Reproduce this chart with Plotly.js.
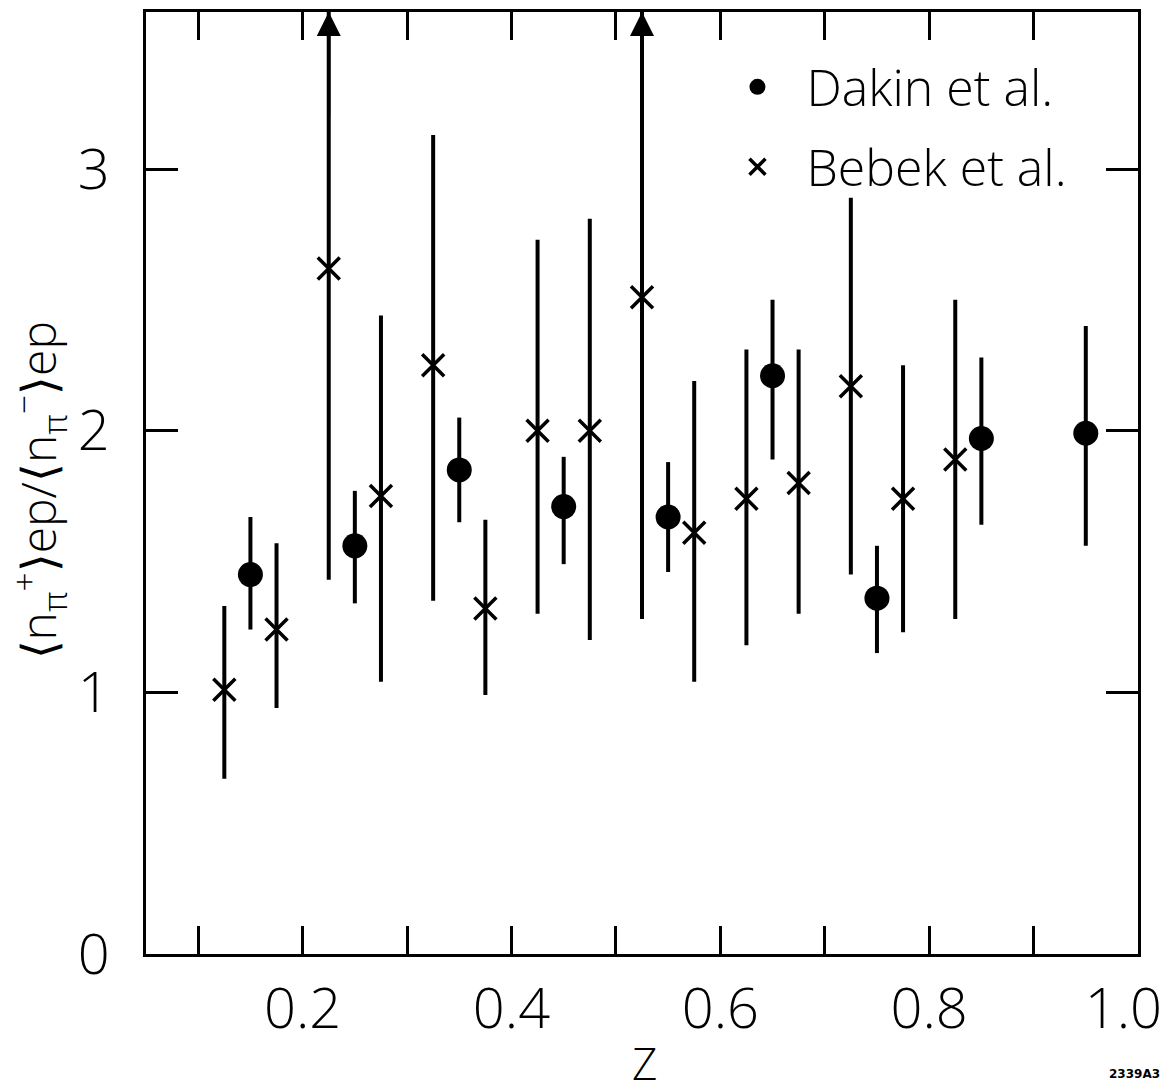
<!DOCTYPE html>
<html>
<head>
<meta charset="utf-8">
<script src="https://cdn.plot.ly/plotly-3.0.1.min.js"></script>
<style>
  html, body { margin: 0; padding: 0; background: #fff; }
  #chart { width: 1170px; height: 1092px; }
</style>
</head>
<body>
<div id="chart"></div>
<script>
// ---- Data ----
// Dakin et al. (filled circles)
const dakinZ   = [0.15, 0.25, 0.35, 0.45, 0.55, 0.65, 0.75, 0.85, 0.95];
const dakinY   = [1.45, 1.56, 1.85, 1.71, 1.67, 2.21, 1.36, 1.97, 1.99];
const dakinHi  = [1.67, 1.77, 2.05, 1.90, 1.88, 2.50, 1.56, 2.28, 2.40];
const dakinLo  = [1.24, 1.34, 1.65, 1.49, 1.46, 1.89, 1.15, 1.64, 1.56];

// Bebek et al. (crosses); null upper = error bar runs off scale (arrow)
const bebekZ   = [0.125, 0.175, 0.225, 0.275, 0.325, 0.375, 0.425, 0.475, 0.525, 0.575, 0.625, 0.675, 0.725, 0.775, 0.825];
const bebekY   = [1.01, 1.24, 2.62, 1.75, 2.25, 1.32, 2.00, 2.00, 2.51, 1.61, 1.74, 1.80, 2.17, 1.74, 1.89];
const bebekHi  = [1.33, 1.57, null, 2.44, 3.13, 1.66, 2.73, 2.81, null, 2.19, 2.31, 2.31, 2.89, 2.25, 2.50];
const bebekLo  = [0.67, 0.94, 1.43, 1.04, 1.35, 0.99, 1.30, 1.20, 1.28, 1.04, 1.18, 1.30, 1.45, 1.23, 1.28];

// Axis ticks (trailing no-break spaces keep the last label inside the page)
const xTickVals = [0.1, 0.2, 0.3, 0.4, 0.5, 0.6, 0.7, 0.8, 0.9, 1.0];
const xTickText = ["", "0.2", "", "0.4", "", "0.6", "", "0.8", "", "1.0\u00a0\u00a0"];
const yTickVals = [0, 1, 2, 3];
const yTickText = ["0", "1", "2", "3"];
const xRange = [0.05, 1.0];
const yRange = [0, 3.6];

const xTitle = "Z";
const yTitle = "⟨n<sub>π</sub><sup>+</sup>⟩ep/⟨n<sub>π</sub><sup>−</sup>⟩ep";
const figCode = "<b>2339A3</b>";

// ---- Build traces ----
const FONT = "Open Sans, Noto Sans, DejaVu Sans, sans-serif";

const dakinTrace = {
  type: "scatter", mode: "markers", name: "Dakin et al.",
  legendgroup: "d",
  x: dakinZ, y: dakinY,
  marker: { symbol: "circle", size: 25, color: "#000" },
  error_y: {
    type: "data", symmetric: false,
    array: dakinY.map((v, i) => dakinHi[i] - v),
    arrayminus: dakinY.map((v, i) => v - dakinLo[i]),
    color: "#000", thickness: 4, width: 0
  },
  cliponaxis: true
};

const bebekTrace = {
  type: "scatter", mode: "markers", name: "Bebek et al.",
  legendgroup: "b",
  x: bebekZ, y: bebekY,
  marker: { symbol: "x-thin", size: 22, color: "#000", line: { color: "#000", width: 3.5 } },
  error_y: {
    type: "data", symmetric: false,
    array: bebekY.map((v, i) => (bebekHi[i] === null ? yRange[1] - v : bebekHi[i] - v)),
    arrayminus: bebekY.map((v, i) => v - bebekLo[i]),
    color: "#000", thickness: 4, width: 0
  },
  cliponaxis: true
};

// arrows for off-scale upper limits
const arrowAnns = [];
bebekZ.forEach((z, i) => {
  if (bebekHi[i] === null) {
    arrowAnns.push({
      x: z, y: yRange[1], xref: "x", yref: "y",
      ax: z, ay: yRange[1] - 0.4, axref: "x", ayref: "y",
      showarrow: true, arrowhead: 2, arrowsize: 1.6, arrowwidth: 3,
      arrowcolor: "#000", standoff: 0, startstandoff: 0, text: ""
    });
  }
});

const titleAnns = [
  {
    text: yTitle, xref: "paper", yref: "paper", x: -0.109, y: 0.492,
    xanchor: "center", yanchor: "middle", textangle: -90, showarrow: false,
    font: { family: FONT, size: 48, color: "#000", weight: 300 }
  },
  {
    text: xTitle, xref: "paper", yref: "paper", x: 0.503, y: -0.116,
    xanchor: "center", yanchor: "middle", showarrow: false,
    font: { family: FONT, size: 44, color: "#000", weight: 300 }
  },
  {
    text: figCode, xref: "paper", yref: "paper", x: 0.996, y: -0.127,
    xanchor: "center", yanchor: "middle", showarrow: false,
    font: { family: "DejaVu Sans", size: 12, color: "#000" }
  }
];

const layout = {
  width: 1170, height: 1092,
  margin: { l: 146, r: 32, t: 12, b: 138 },
  paper_bgcolor: "#fff", plot_bgcolor: "#fff",
  font: { family: FONT, color: "#000" },
  showlegend: true,
  legend: {
    x: 0.567, y: 0.962, xanchor: "left", yanchor: "top",
    bgcolor: "rgba(0,0,0,0)", borderwidth: 0,
    font: { family: FONT, size: 50, color: "#000", weight: 300 },
    tracegroupgap: 12, itemsizing: "trace", itemwidth: 88
  },
  xaxis: {
    range: xRange, tickmode: "array", tickvals: xTickVals, ticktext: xTickText,
    ticks: "inside", ticklen: 28, tickwidth: 3, tickcolor: "#000",
    showline: true, linewidth: 3, linecolor: "#000", mirror: "ticks",
    showgrid: false, zeroline: false, automargin: false,
    tickfont: { family: FONT, size: 56, color: "#000", weight: 300 },
    ticklabelstandoff: 4, ticklabeloverflow: "allow"
  },
  yaxis: {
    range: yRange, tickmode: "array", tickvals: yTickVals, ticktext: yTickText,
    ticks: "inside", ticklen: 32, tickwidth: 3, tickcolor: "#000",
    showline: true, linewidth: 3, linecolor: "#000", mirror: "ticks",
    showgrid: false, zeroline: false, automargin: false,
    tickfont: { family: FONT, size: 56, color: "#000", weight: 300 },
    ticklabelstandoff: 22, ticklabeloverflow: "allow"
  },
  annotations: arrowAnns.concat(titleAnns)
};

Plotly.newPlot("chart", [dakinTrace, bebekTrace], layout, { staticPlot: true, displayModeBar: false });
</script>
</body>
</html>
